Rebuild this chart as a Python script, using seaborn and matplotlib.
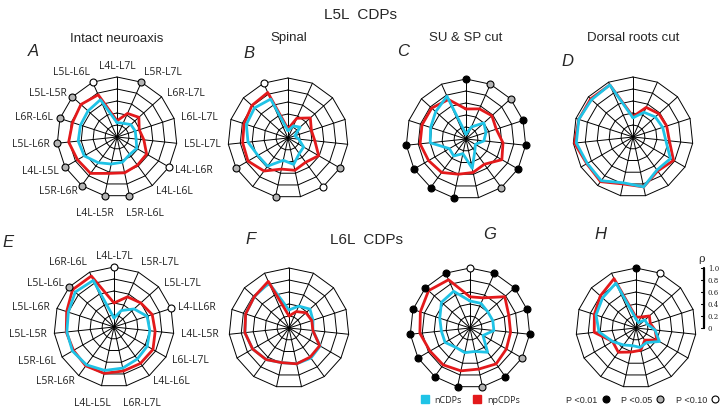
import numpy as np
import seaborn as sns
import matplotlib.pyplot as plt
from matplotlib.lines import Line2D

# spoke labels, clockwise from top
labels_l5 = ["L4L-L7L", "L5R-L7L", "L6R-L7L", "L6L-L7L", "L5L-L7L", "L4L-L6R", "L4L-L6L",
             "L5R-L6L", "L4L-L5R", "L5R-L6R", "L4L-L5L", "L5L-L6R", "L6R-L6L", "L5L-L5R", "L5L-L6L"]
labels_l6 = ["L4L-L7L", "L5R-L7L", "L5L-L7L", "L4-LL6R", "L4L-L5R", "L6L-L7L", "L4L-L6L",
             "L6R-L7L", "L4L-L5L", "L5R-L6R", "L5R-L6L", "L5L-L5R", "L5L-L6R", "L5L-L6L", "L6R-L6L"]

# correlation values (rho) per spoke
A_n = [0.24, 0.25, 0.31, 0.32, 0.32, 0.38, 0.36, 0.43, 0.46, 0.53, 0.63, 0.65, 0.64, 0.65, 0.68]
A_np = [0.27, 0.43, 0.49, 0.39, 0.45, 0.57, 0.58, 0.61, 0.62, 0.75, 0.76, 0.81, 0.78, 0.81, 0.77]
B_n = [0.12, 0.22, 0.27, 0.12, 0.18, 0.30, 0.32, 0.45, 0.38, 0.58, 0.58, 0.67, 0.73, 0.75, 0.71]
B_np = [0.15, 0.36, 0.50, 0.41, 0.45, 0.59, 0.50, 0.55, 0.53, 0.68, 0.77, 0.76, 0.77, 0.81, 0.83]
C_n = [0.08, 0.22, 0.40, 0.35, 0.30, 0.18, 0.25, 0.50, 0.25, 0.35, 0.32, 0.60, 0.62, 0.68, 0.78]
C_np = [0.50, 0.55, 0.58, 0.53, 0.62, 0.69, 0.52, 0.57, 0.60, 0.69, 0.72, 0.77, 0.77, 0.77, 0.72]
D_n = [0.32, 0.45, 0.50, 0.52, 0.55, 0.72, 0.68, 0.85, 0.78, 0.90, 0.88, 0.95, 0.95, 0.93, 0.95]
D_np = [0.34, 0.54, 0.58, 0.59, 0.61, 0.78, 0.70, 0.85, 0.80, 0.92, 0.89, 0.98, 0.95, 0.95, 0.95]
E_n = [0.15, 0.30, 0.45, 0.58, 0.60, 0.64, 0.66, 0.70, 0.74, 0.78, 0.80, 0.79, 0.80, 0.87, 0.85]
E_np = [0.40, 0.55, 0.60, 0.67, 0.69, 0.75, 0.75, 0.75, 0.79, 0.80, 0.78, 0.80, 0.83, 0.93, 0.93]
F_n = [0.30, 0.40, 0.47, 0.42, 0.40, 0.60, 0.62, 0.61, 0.59, 0.65, 0.70, 0.74, 0.76, 0.78, 0.82]
F_np = [0.20, 0.30, 0.38, 0.40, 0.40, 0.59, 0.60, 0.61, 0.59, 0.65, 0.70, 0.74, 0.76, 0.78, 0.85]
G_n = [0.45, 0.45, 0.40, 0.40, 0.40, 0.25, 0.50, 0.40, 0.42, 0.40, 0.48, 0.48, 0.53, 0.64, 0.67]
G_np = [0.52, 0.55, 0.78, 0.68, 0.68, 0.70, 0.74, 0.70, 0.73, 0.76, 0.77, 0.84, 0.87, 0.93, 0.88]
H_n = [0.15, 0.10, 0.20, 0.20, 0.32, 0.45, 0.30, 0.33, 0.30, 0.35, 0.45, 0.62, 0.70, 0.75, 0.82]
H_np = [0.18, 0.20, 0.30, 0.25, 0.32, 0.40, 0.25, 0.38, 0.41, 0.50, 0.45, 0.70, 0.73, 0.80, 0.90]

# significance per spoke: 0.01 -> "b", 0.05 -> "g", 0.10 -> "w"
A_sig = {1: "g", 5: "w", 7: "g", 8: "g", 9: "g", 10: "g", 11: "g", 12: "g", 13: "g", 14: "w"}
B_sig = {5: "g", 6: "w", 8: "g", 10: "g", 14: "w"}
C_sig = {0: "b", 1: "g", 2: "g", 3: "b", 4: "b", 5: "b", 6: "g", 8: "b", 9: "b", 10: "b", 11: "b"}
D_sig = {}
E_sig = {0: "w", 3: "w", 13: "g"}
F_sig = {}
G_sig = {0: "w", 1: "b", 2: "b", 3: "b", 4: "b", 5: "g", 6: "b", 7: "g",
         8: "b", 9: "b", 10: "b", 11: "b", 12: "b", 13: "b", 14: "b"}
H_sig = {0: "b", 1: "w"}

rho_ticks = [0, 0.2, 0.4, 0.6, 0.8, 1.0]

CYAN = "#1fc3e6"
RED = "#e3191b"
SIG_COL = {"b": "black", "g": "#b4b4b4", "w": "white"}

W, H = 720, 410
HALF = 90  # axes half width in px, radius 1 -> 60 px
angles = np.deg2rad(np.arange(15) * 24)


def to_xy(r):
    r = np.asarray(r + r[:1])
    a = np.concatenate([angles, angles[:1]])
    return r * np.sin(a), r * np.cos(a)


def make_ax(fig, cx, cy):
    ax = fig.add_axes([(cx - HALF) / W, (H - cy - HALF) / H, 2 * HALF / W, 2 * HALF / H])
    ax.set_xlim(-1.5, 1.5)
    ax.set_ylim(-1.5, 1.5)
    ax.axis("off")
    return ax


def radar(ax, n_vals, np_vals, sig, labels=None, red_on_top=False):
    # polygon web
    for ring in rho_ticks[1:]:
        x, y = to_xy([ring] * 15)
        ax.plot(x, y, color="black", lw=0.7, zorder=1)
    for a in angles:
        ax.plot([0, np.sin(a)], [0, np.cos(a)], color="black", lw=0.7, zorder=1)

    xn, yn = to_xy(list(n_vals))
    xr, yr = to_xy(list(np_vals))
    z_n, z_r = (2, 3) if red_on_top else (3, 2)
    sns.lineplot(x=xn, y=yn, sort=False, estimator=None, color=CYAN, lw=2.0, ax=ax, zorder=z_n)
    sns.lineplot(x=xr, y=yr, sort=False, estimator=None, color=RED, lw=2.0, ax=ax, zorder=z_r)

    for i, c in sig.items():
        ax.plot(np.sin(angles[i]), np.cos(angles[i]), "o", ms=5, mfc=SIG_COL[c],
                mec="black", mew=0.8, zorder=4, clip_on=False)

    if labels:
        for a, lab in zip(angles, labels):
            s, c = np.sin(a), np.cos(a)
            if c < -0.9:
                # the two bottom spokes: pushed down and spread apart
                ax.text(0.1 * np.sign(s) + 0.05, -1.17, lab, ha="left" if s > 0 else "right",
                        va="top", fontsize=7.5, family="Open Sans", color="#222222")
                continue
            ha = "center" if abs(s) < 0.3 else ("left" if s > 0 else "right")
            va = "bottom" if c > 0.9 else "center"
            ax.text(1.12 * s, 1.1 * c, lab, ha=ha, va=va, fontsize=7.5,
                    family="Open Sans", color="#222222")


def main():
    sns.set_theme(style="white")
    plt.rcParams["font.family"] = ["Liberation Sans", "DejaVu Sans"]

    fig = plt.figure(figsize=(7.2, 4.1), dpi=100)

    panels = [
        (117, 138, A_n, A_np, A_sig, labels_l5, False),
        (288, 139, B_n, B_np, B_sig, None, False),
        (466, 140, C_n, C_np, C_sig, None, False),
        (633, 138, D_n, D_np, D_sig, None, False),
        (114, 328, E_n, E_np, E_sig, labels_l6, False),
        (289, 329, F_n, F_np, F_sig, None, True),
        (470, 329, G_n, G_np, G_sig, None, False),
        (636, 329, H_n, H_np, H_sig, None, False),
    ]
    axes = []
    for cx, cy, vn, vr, sig, labs, red_top in panels:
        ax = make_ax(fig, cx, cy)
        radar(ax, vn, vr, sig, labs, red_top)
        axes.append(ax)

    # rho scale bar in panel H
    axh = axes[7]
    axh.plot([1.13, 1.13], [0, 1.0], color="black", lw=1.6, clip_on=False)
    for t in rho_ticks:
        axh.plot([1.08, 1.13], [t, t], color="black", lw=0.8, clip_on=False)
        axh.text(1.2, t, f"{t:g}" if t == 0 else f"{t:.1f}", fontsize=5, va="center",
                 ha="left", family="DejaVu Serif")
    axh.text(1.1, 1.17, "ρ", fontsize=8, ha="center", va="center", family="DejaVu Serif")

    def ftext(x, y, s, **kw):
        fig.text(x / W, 1 - y / H, s, ha="center", va="center", **kw)

    ftext(360, 15, "L5L  CDPs", fontsize=11)
    ftext(366, 240, "L6L  CDPs", fontsize=11)
    titles = [(117, 39, "Intact neuroaxis"), (289, 38, "Spinal"),
              (466, 38, "SU & SP cut"), (633, 38, "Dorsal roots cut")]
    for x, y, s in titles:
        ftext(x, y, s, fontsize=9.5)
    letters = [(33, 51, "A"), (249, 54, "B"), (403, 52, "C"), (567, 61, "D"),
               (8, 243, "E"), (251, 240, "F"), (490, 235, "G"), (600, 235, "H")]
    for x, y, s in letters:
        ftext(x, y, s, fontsize=12, style="italic")

    # legends
    h1 = [Line2D([], [], ls="", marker="s", ms=5.5, color=CYAN),
          Line2D([], [], ls="", marker="s", ms=5.5, color=RED)]
    fig.legend(h1, ["nCDPs", "npCDPs"], loc="center", bbox_to_anchor=(470 / W, 1 - 401 / H),
               ncol=2, frameon=False, handlelength=1.0, handletextpad=0.6, columnspacing=1.2,
               borderpad=0, prop={"family": "Open Sans", "size": 6.5})
    h2 = [Line2D([], [], ls="", marker="o", ms=5, mfc=SIG_COL[k], mec="black", mew=0.8)
          for k in ["b", "g", "w"]]
    fig.legend(h2, ["P <0.01", "P <0.05", "P <0.10"], loc="center",
               bbox_to_anchor=(643 / W, 1 - 401 / H), ncol=3, frameon=False,
               markerfirst=False, handlelength=1.0, handletextpad=0.4, columnspacing=1.2,
               borderpad=0, prop={"family": "Liberation Sans", "size": 6.5})

    fig.savefig("out.png", dpi=100, facecolor="white")


if __name__ == "__main__":
    main()
